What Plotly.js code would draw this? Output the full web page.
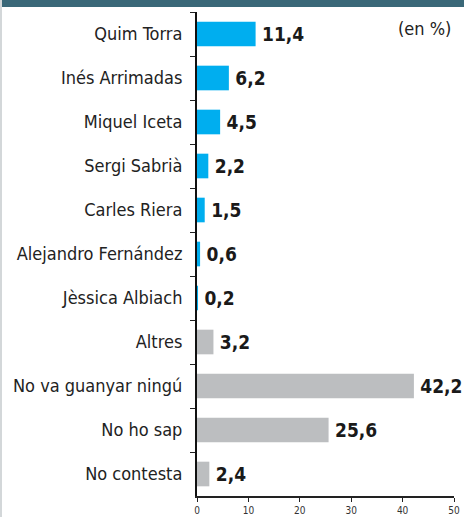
<!DOCTYPE html>
<html><head><meta charset="utf-8">
<script src="https://cdn.plot.ly/plotly-3.0.1.min.js"></script>
<style>html,body{margin:0;padding:0;background:#fff;}#chart{width:464px;height:517px;}</style>
</head><body><div id="chart"></div>
<script>
const categories = ["Quim Torra","Inés Arrimadas","Miquel Iceta","Sergi Sabrià","Carles Riera","Alejandro Fernández","Jèssica Albiach","Altres","No va guanyar ningú","No ho sap","No contesta"];
const values = [11.4, 6.2, 4.5, 2.2, 1.5, 0.6, 0.2, 3.2, 42.2, 25.6, 2.4];
const groups = ["cand","cand","cand","cand","cand","cand","cand","other","other","other","other"];
const xTicks = [0, 10, 20, 30, 40, 50];
const unitLabel = "(en %)";

const colors = groups.map(g => g === "cand" ? "#00aeef" : "#bcbec0");
const L = 197, R = 10, T = 12, B = 21, W = 464, H = 517;
const pw = W - L - R, ph = H - T - B;
const FONT = "DejaVu Sans Condensed, Liberation Sans Narrow, sans-serif";

const trace = {
  type: "bar", orientation: "h",
  y: categories, x: values,
  marker: {color: colors},
  texttemplate: "\u2009%{x:.1f}",
  textposition: "outside",
  cliponaxis: false,
  textfont: {family: FONT, size: 19, color: "#1a1a1a", weight: "bold"},
  hoverinfo: "none"
};

const layout = {
  width: W, height: H,
  margin: {l: L, r: R, t: T, b: B, pad: 0},
  separators: ",.",
  showlegend: false,
  bargap: 0.44,
  plot_bgcolor: "#fff", paper_bgcolor: "#fff",
  font: {family: FONT, color: "#222"},
  xaxis: {
    range: [0, 50], tickvals: xTicks, ticktext: xTicks.map(String),
    showgrid: false, zeroline: false,
    showline: true, linecolor: "#222", linewidth: 1.5,
    ticks: "outside", ticklen: 4, tickcolor: "#222",
    tickfont: {size: 10, color: "#333"}, fixedrange: true
  },
  yaxis: {
    type: "category", autorange: "reversed",
    showgrid: false, zeroline: false,
    showline: true, linecolor: "#111", linewidth: 2,
    ticks: "outside", tickson: "boundaries", ticklen: 5, tickcolor: "#222",
    tickfont: {size: 18, color: "#222"}, ticklabelstandoff: 9, fixedrange: true
  },
  annotations: [{
    text: unitLabel, xref: "paper", yref: "paper",
    x: 1 - 1/pw, y: 1 - 4/ph, xanchor: "right", yanchor: "top",
    showarrow: false, font: {size: 18, color: "#222"}
  }],
  shapes: [
    {type: "rect", xref: "paper", yref: "paper", x0: -L/pw, x1: 1 + R/pw, y0: 1 + (T-7)/ph, y1: 1 + T/ph, fillcolor: "#3a6878", line: {width: 0}, layer: "above"},
    {type: "rect", xref: "paper", yref: "paper", x0: -L/pw, x1: -(L-2)/pw, y0: -B/ph, y1: 1 + T/ph, fillcolor: "#d3d7d9", line: {width: 0}, layer: "above"}
  ]
};

Plotly.newPlot("chart", [trace], layout, {displayModeBar: false, staticPlot: true});
</script></body></html>
